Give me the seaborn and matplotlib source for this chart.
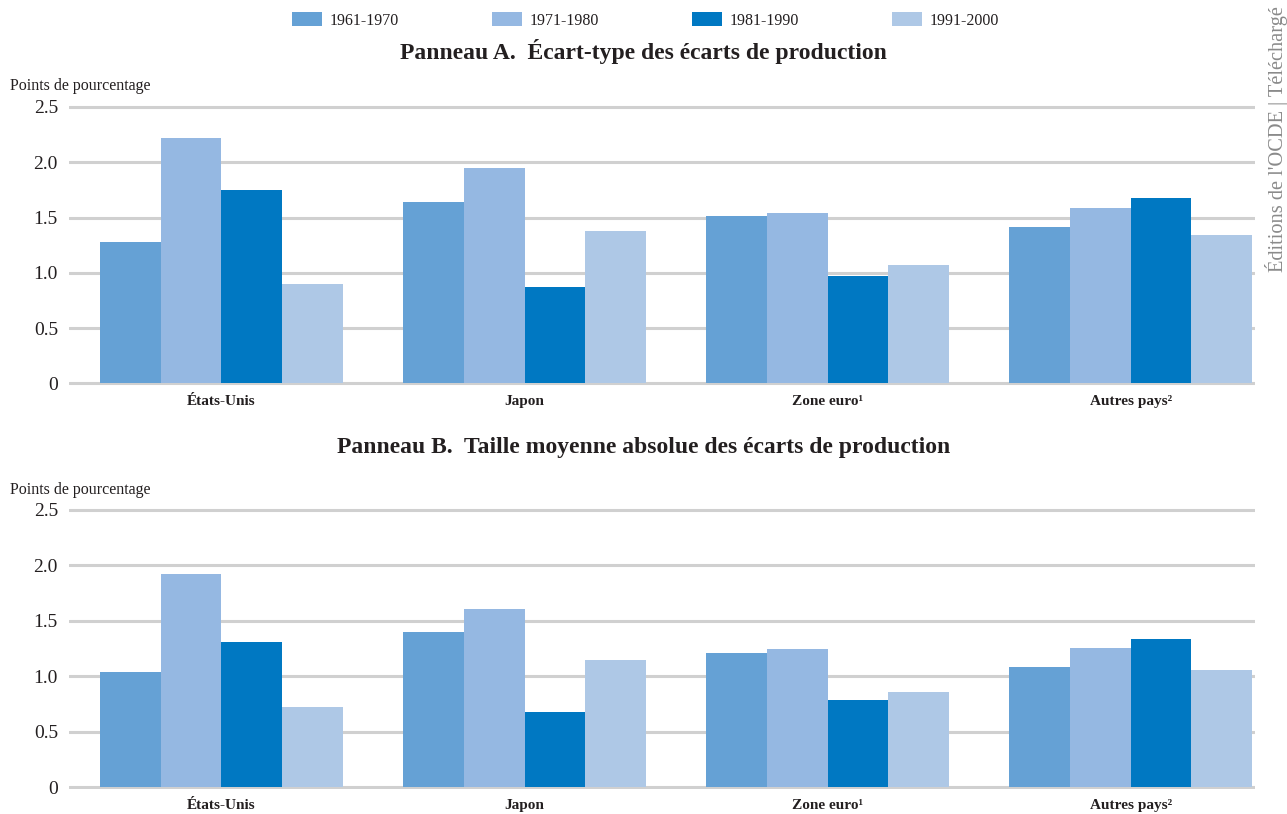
import matplotlib
matplotlib.use("Agg")
import matplotlib.pyplot as plt
import seaborn as sns
import pandas as pd

# ---------------- data ----------------
categories = ["États-Unis", "Japon", "Zone euro¹", "Autres pays²"]
periods = ["1961-1970", "1971-1980", "1981-1990", "1991-2000"]

# Panel A: standard deviation of output gaps
a_1961_1970 = [1.28, 1.64, 1.51, 1.41]
a_1971_1980 = [2.22, 1.95, 1.54, 1.59]
a_1981_1990 = [1.75, 0.87, 0.97, 1.68]
a_1991_2000 = [0.90, 1.38, 1.07, 1.34]

# Panel B: mean absolute size of output gaps
b_1961_1970 = [1.04, 1.40, 1.21, 1.08]
b_1971_1980 = [1.92, 1.61, 1.25, 1.26]
b_1981_1990 = [1.31, 0.68, 0.79, 1.34]
b_1991_2000 = [0.72, 1.15, 0.86, 1.06]

y_ticks = [0, 0.5, 1.0, 1.5, 2.0, 2.5]
y_ticklabels = ["0", "0.5", "1.0", "1.5", "2.0", "2.5"]

colors = ["#65A1D5", "#95B8E2", "#0078C2", "#AEC8E6"]

title_a = "Panneau A.  Écart-type des écarts de production"
title_b = "Panneau B.  Taille moyenne absolue des écarts de production"
unit_label = "Points de pourcentage"
watermark = "Éditions de l'OCDE | Téléchargé"


def make_df(series):
    rows = []
    for period, vals in zip(periods, series):
        for cat, v in zip(categories, vals):
            rows.append({"category": cat, "period": period, "value": v})
    return pd.DataFrame(rows)


df_a = make_df([a_1961_1970, a_1971_1980, a_1981_1990, a_1991_2000])
df_b = make_df([b_1961_1970, b_1971_1980, b_1981_1990, b_1991_2000])

sns.set_theme(style="white")
plt.rcParams["font.family"] = ["Liberation Serif", "DejaVu Serif"]

W, H = 1287, 814
fig = plt.figure(figsize=(W / 100, H / 100), dpi=100)
axA = fig.add_axes([69 / W, 0.5264, (1255 - 69) / W, 0.3449])
axB = fig.add_axes([69 / W, 0.0301, (1255 - 69) / W, 0.3461])

text_col = "#231F20"

for ax, df in ((axA, df_a), (axB, df_b)):
    sns.barplot(data=df, x="category", y="value", hue="period",
                order=categories, hue_order=periods, palette=colors,
                saturation=1, width=0.8, gap=0, linewidth=0, ax=ax,
                legend=True, errorbar=None)
    ax.set_ylim(-0.02, 2.52)
    ax.set_xlim(-0.503, 3.41)
    ax.set_yticks(y_ticks)
    ax.set_yticklabels(y_ticklabels, fontsize=14, color=text_col)
    for lab in ax.get_xticklabels():
        lab.set_fontweight("bold")
        lab.set_fontsize(11)
        lab.set_color(text_col)
    ax.tick_params(axis="both", length=0)
    ax.tick_params(axis="y", pad=8)
    ax.tick_params(axis="x", pad=7)
    ax.set_xlabel("")
    ax.set_ylabel("")
    ax.yaxis.grid(True, color="#D0D0D0", linewidth=2.2)
    ax.xaxis.grid(False)
    ax.set_axisbelow(True)
    for s in ax.spines.values():
        s.set_visible(False)
    ax.patch.set_alpha(0)

handles, labels = axA.get_legend_handles_labels()
axA.get_legend().remove()
axB.get_legend().remove()

fig.legend(handles, labels, loc="center", bbox_to_anchor=(645.5 / W, 1 - 20.5 / H),
           ncol=4, frameon=False, fontsize=11.5, handlelength=1.88,
           handleheight=1.0, handletextpad=0.5, columnspacing=5.8,
           borderpad=0, labelcolor=text_col)

fig.text(0.5, 1 - 51 / H, title_a, ha="center", va="center",
         fontsize=17, fontweight="bold", color=text_col)
fig.text(0.5, 1 - 448 / H, title_b, ha="center", va="center",
         fontsize=17, fontweight="bold", color=text_col)

fig.text(10 / W, 1 - 86 / H, unit_label, ha="left", va="center",
         fontsize=11.5, color=text_col)
fig.text(10 / W, 1 - 490 / H, unit_label, ha="left", va="center",
         fontsize=11.5, color=text_col)

fig.text(1276 / W, 1 - 272 / H, watermark, rotation=90, ha="center",
         va="bottom", fontsize=14.7, color="#8A8A8A")

fig.savefig("out.png", dpi=100)
